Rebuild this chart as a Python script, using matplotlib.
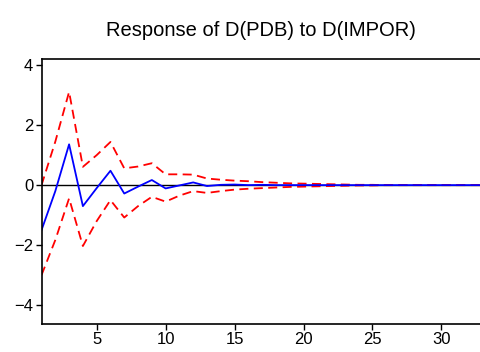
import matplotlib.pyplot as plt

plt.rcParams['font.family'] = ['Liberation Sans', 'DejaVu Sans']

periods = list(range(1, 34))
response = [-1.5, -0.2, 1.36, -0.7, -0.1, 0.48, -0.28, -0.05, 0.17, -0.11,
            -0.01, 0.09, -0.03, 0.01, 0.02, 0.0, 0.01, 0.0, 0.0, 0.0,
            0.0, 0.0, 0.0, 0.0, 0.0, 0.0, 0.0, 0.0, 0.0, 0.0, 0.0, 0.0, 0.0]
upper = [0.0, 1.45, 3.11, 0.61, 1.0, 1.44, 0.56, 0.62, 0.73, 0.36,
         0.36, 0.35, 0.22, 0.18, 0.15, 0.13, 0.1, 0.08, 0.06, 0.05,
         0.04, 0.03, 0.02, 0.01, 0.01, 0.0, 0.0, 0.0, 0.0, 0.0, 0.0, 0.0, 0.0]
lower = [-3.0, -1.83, -0.44, -2.03, -1.2, -0.5, -1.08, -0.7, -0.39, -0.55,
         -0.35, -0.2, -0.26, -0.2, -0.15, -0.12, -0.1, -0.08, -0.06, -0.05,
         -0.04, -0.03, -0.02, -0.01, -0.01, 0.0, 0.0, 0.0, 0.0, 0.0, 0.0, 0.0, 0.0]

fig = plt.figure(figsize=(4.8, 3.52), dpi=100)
ax = fig.add_axes([0.0865, 0.0795, 0.9135, 0.7525])

ax.axhline(0, color='black', linewidth=1.0)
ax.plot(periods, upper, color='#ff0000', linewidth=1.3, dashes=(5, 3))
ax.plot(periods, lower, color='#ff0000', linewidth=1.3, dashes=(5, 3))
ax.plot(periods, response, color='#0000ff', linewidth=1.3)

ax.set_xlim(1, 32.8)
ax.set_ylim(-4.63, 4.2)
ax.set_xticks([5, 10, 15, 20, 25, 30])
ax.set_yticks([-4, -2, 0, 2, 4])
ax.spines['right'].set_visible(False)
for s in ['left', 'bottom', 'top']:
    ax.spines[s].set_linewidth(1.2)
ax.tick_params(direction='out', length=4, width=1.0, labelsize=12, pad=2)

fig.text(0.543, 0.912, 'Response of D(PDB) to D(IMPOR)', ha='center', va='center', fontsize=14.5)

fig.savefig('out.png', dpi=100)
